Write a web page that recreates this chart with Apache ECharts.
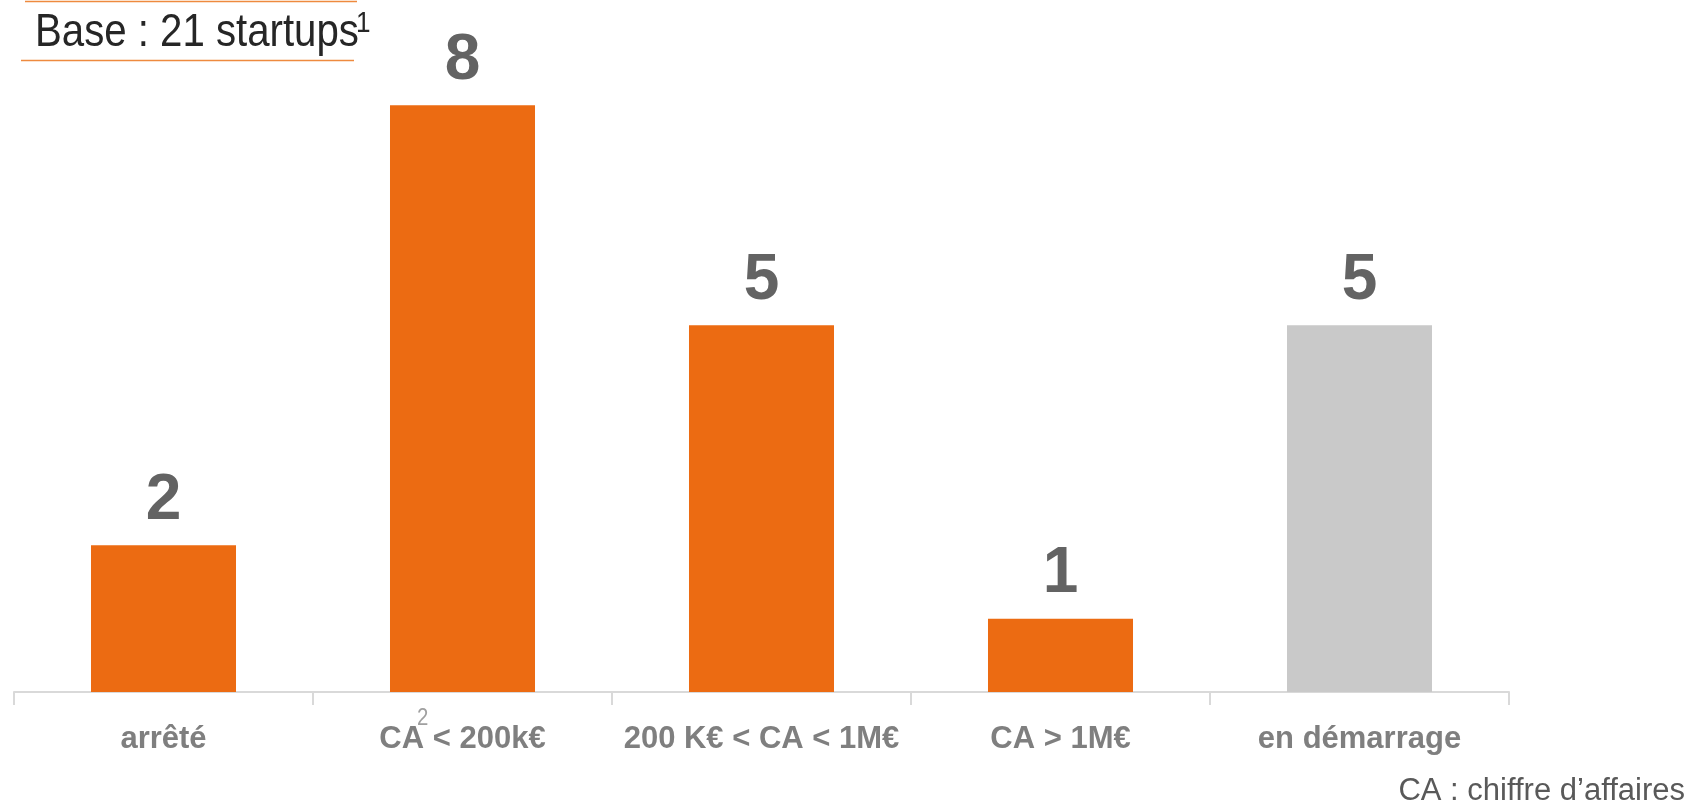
<!DOCTYPE html>
<html>
<head>
<meta charset="utf-8">
<script src="https://cdn.jsdelivr.net/npm/echarts@6/dist/echarts.min.js"></script>
<style>
html,body{margin:0;padding:0;background:#fff;}
#chart{width:1694px;height:812px;}
</style>
</head>
<body>
<div id="chart"></div>
<script>
const categories = ['arrêté', 'CA < 200k€', '200 K€ < CA < 1M€', 'CA > 1M€', 'en démarrage'];
const values = [2, 8, 5, 1, 5];
const barColors = ['#EC6B12', '#EC6B12', '#EC6B12', '#EC6B12', '#C9C9C9'];
const titleText = 'Base : 21 startups';
const titleSup = '1';
const footnote = 'CA : chiffre d\u2019affaires';

const FONT = '"Liberation Sans Narrow", "Arial Narrow", "Liberation Sans", sans-serif';

const chart = echarts.init(document.getElementById('chart'));
chart.setOption({
  animation: false,
  backgroundColor: '#ffffff',
  grid: { left: 14, right: 185, top: 32, bottom: 120 },
  xAxis: {
    type: 'category',
    data: categories,
    axisLine: { lineStyle: { color: '#D9D9D9', width: 2 } },
    axisTick: { show: true, alignWithLabel: false, length: 13, lineStyle: { color: '#D9D9D9', width: 2 } },
    axisLabel: { margin: 32, fontFamily: FONT, fontWeight: 'bold', fontSize: 31, color: '#7F7F7F', interval: 0 }
  },
  yAxis: {
    type: 'value', min: 0, max: 9,
    show: false,
    splitLine: { show: false }
  },
  series: [{
    type: 'bar',
    barWidth: '48.5%',
    data: values.map((v, i) => ({ value: v, itemStyle: { color: barColors[i] } })),
    label: {
      show: true, position: 'top', distance: 12,
      fontFamily: FONT, fontWeight: 'bold', fontSize: 64, color: '#636363'
    }
  }],
  graphic: [
    { type: 'line', shape: { x1: 25, y1: 1.5, x2: 357, y2: 1.5 }, style: { stroke: '#EE8A3F', lineWidth: 1.5 } },
    { type: 'line', shape: { x1: 21, y1: 60.5, x2: 354, y2: 60.5 }, style: { stroke: '#EE8A3F', lineWidth: 1.5 } },
    { type: 'text', x: 35, y: 10, scaleX: 0.855, style: { text: titleText, font: '47px ' + FONT, fill: '#262626' } },
    { type: 'text', x: 356, y: 9, scaleX: 0.9, style: { text: titleSup, font: '29px ' + FONT, fill: '#262626' } },
    { type: 'text', x: 417, y: 706, scaleX: 0.85, style: { text: '2', font: '24px ' + FONT, fill: '#A0A0A0' } },
    { type: 'text', x: 1685, y: 776, style: { text: footnote, font: '31px ' + FONT, fill: '#595959', align: 'right' } }
  ]
});
</script>
</body>
</html>
